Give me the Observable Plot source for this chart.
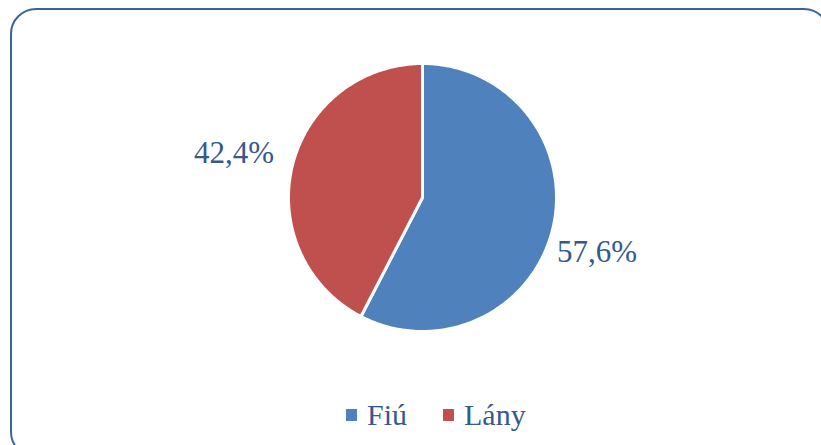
<!DOCTYPE html>
<html>
<head>
<meta charset="utf-8">
<script src="https://cdn.jsdelivr.net/npm/d3@7"></script>
<script src="https://cdn.jsdelivr.net/npm/@observablehq/plot@0.6"></script>
<style>
  html, body { margin: 0; padding: 0; width: 821px; height: 445px; overflow: hidden; background: #fff; }
  #frame { position: absolute; left: 10px; top: 8px; width: 820px; height: 450px; border: 2.5px solid #3a6599; border-radius: 26px; box-sizing: border-box; }
  #chart { position: absolute; left: 0; top: 0; }
  #legend { position: absolute; left: 0; top: 398px; width: 821px; font-family: "Liberation Serif", serif; font-size: 30px; color: #36598c; }
  .item { position: absolute; top: 0; white-space: nowrap; }
  .sw { display: inline-block; width: 11px; height: 12px; vertical-align: baseline; margin-right: 10px; position: relative; top: -4px; }
</style>
</head>
<body>
<div id="frame"></div>
<div id="chart"></div>
<div id="legend"></div>
<script>
const categories = ["Fiú", "Lány"];
const values = [57.6, 42.4];
const labels = ["57,6%", "42,4%"];
const colors = ["#4f81bd", "#c0504d"];

const W = 821, H = 390;
const cx = 422, cy = 197, R = 134;

const pie = d3.pie().sort(null).startAngle(0).endAngle(2 * Math.PI)(values);

// polygon points for each slice (unit circle coordinates)
const pts = [];
pie.forEach((p, i) => {
  const n = 200;
  pts.push({cat: categories[i], k: 0, x: 0, y: 0});
  for (let j = 0; j <= n; j++) {
    const a = p.startAngle + (p.endAngle - p.startAngle) * j / n;
    pts.push({cat: categories[i], k: j + 1, x: Math.sin(a), y: Math.cos(a)});
  }
  pts.push({cat: categories[i], k: n + 2, x: 0, y: 0});
});

const lr = 1.41;
const labelData = pie.map((p, i) => {
  const a = (p.startAngle + p.endAngle) / 2;
  return {label: labels[i], x: Math.sin(a) * lr, y: Math.cos(a) * lr};
});

const textOpts = {x: "x", y: "y", text: "label", fontSize: 31, fontFamily: "Liberation Serif", fill: "#36598c", textAnchor: "middle"};

const chart = Plot.plot({
  width: W, height: H,
  margin: 0,
  x: {domain: [-cx / R, (W - cx) / R], range: [0, W], axis: null},
  y: {domain: [-(H - cy) / R, cy / R], range: [H, 0], axis: null},
  color: {domain: categories, range: colors},
  style: {background: "transparent"},
  marks: [
    Plot.line(pts, {x: "x", y: "y", z: "cat", fill: "cat", stroke: "white", strokeWidth: 3, strokeLinejoin: "round", curve: "linear"}),
    Plot.text([labelData[0]], {...textOpts, dx: -9, dy: 10}),
    Plot.text([labelData[1]], {...textOpts, dx: -5, dy: 0})
  ]
});
document.getElementById("chart").appendChild(chart);

const leg = document.getElementById("legend");
const lefts = [346, 443];
categories.forEach((c, i) => {
  const d = document.createElement("div");
  d.className = "item";
  d.style.left = lefts[i] + "px";
  const s = document.createElement("span");
  s.className = "sw";
  s.style.background = colors[i];
  d.appendChild(s);
  d.appendChild(document.createTextNode(c));
  leg.appendChild(d);
});
</script>
</body>
</html>
